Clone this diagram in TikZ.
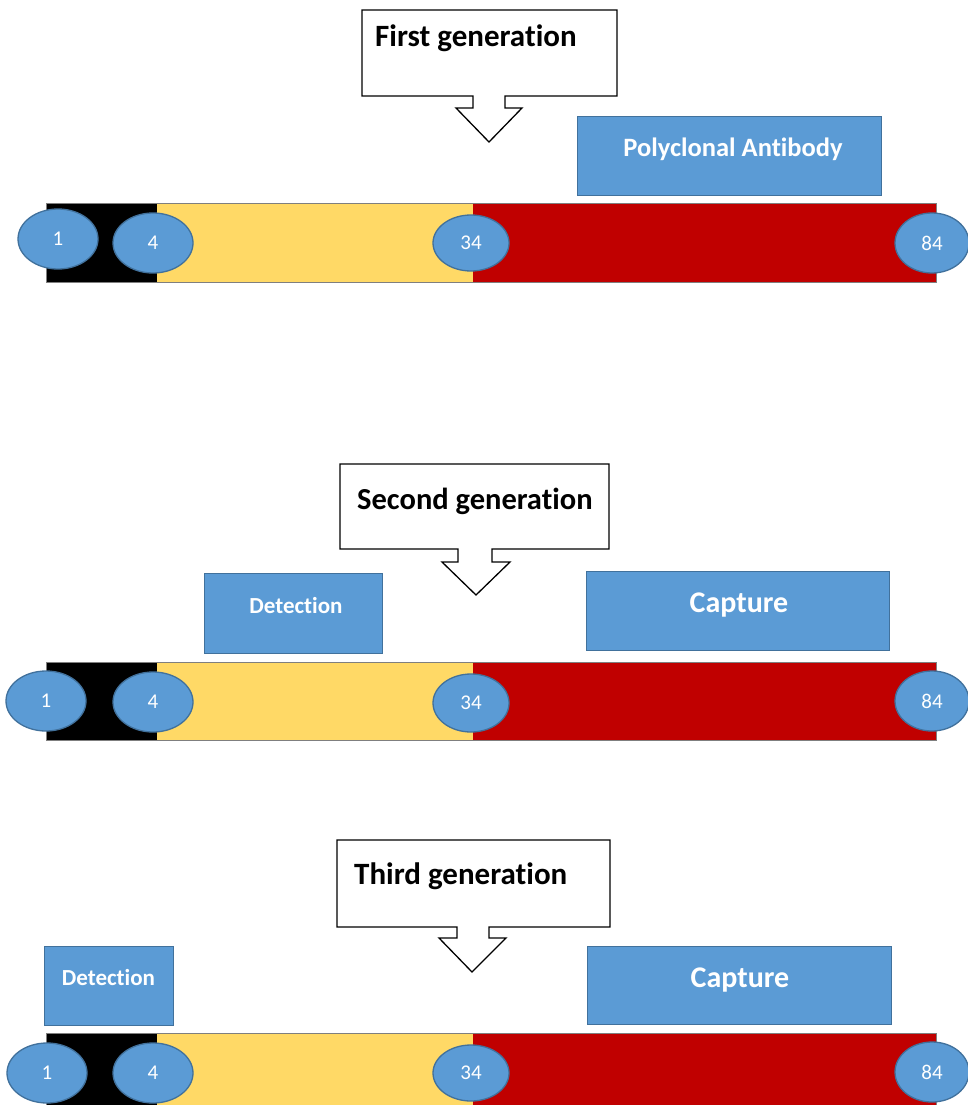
\documentclass[tikz,border=0pt]{standalone}
\usepackage{fontspec}
\setmainfont{Carlito}[Ligatures=NoCommon]
\usetikzlibrary{shapes.geometric}
\definecolor{ablue}{HTML}{5B9BD5}
\definecolor{aborder}{HTML}{41719C}
\definecolor{ayellow}{HTML}{FFD966}
\definecolor{ared}{HTML}{C00000}
\definecolor{barline}{HTML}{7F7F7F}
\begin{document}
\begin{tikzpicture}[x=1pt,y=-1pt,
  site/.style={ellipse, draw=aborder, fill=ablue, line width=1.3pt, inner sep=0pt,
    minimum width=80pt, minimum height=60pt, text=white, font=\fontsize{21}{24}\selectfont},
  bluebox/.style={rectangle, draw=aborder, fill=ablue, line width=1pt, inner sep=0pt},
  boxtext/.style={text=white, anchor=base, inner sep=0pt, font=\bfseries\fontsize{#1}{#1}\selectfont},
  gentext/.style={anchor=base west, inner sep=0pt, font=\bfseries\fontsize{#1}{36}\selectfont},
  callout/.style={draw=black, fill=white, line width=1.3pt, line join=miter},
  barframe/.style={draw=barline, line width=0.8pt}
]
\useasboundingbox (0,0) rectangle (968,1105);
\fill[white] (0,0) rectangle (968,1105);

% ---------- Row 1 ----------
\fill[black]   (46,203) rectangle (157,282);
\fill[ayellow] (157,203) rectangle (473,282);
\fill[ared]    (473,203) rectangle (936,282);
\draw[barframe] (46,203) rectangle (936,282);
\node[site] (a1)  at (58,239)  {1};
\node[site] (a4)  at (153,243) {4};
\node[site, minimum width=76pt, minimum height=56pt] (a34) at (471,243) {34};
\node[site, minimum width=74pt] (a84) at (932,243) {84};
\node[bluebox, minimum width=304pt, minimum height=78pt] (apoly) at (729,156) {};
\node[boxtext=26.5] (apolyt) at (733,157) {Polyclonal Antibody};
\draw[callout] (362,10) -- (617,10) -- (617,96) -- (505,96) -- (505,108) -- (522,108)
  -- (489,142) -- (456,108) -- (473,108) -- (473,96) -- (362,96) -- cycle;
\node[gentext=31] (agen) at (375,47) {First generation};

% ---------- Row 2 ----------
\fill[black]   (46,662) rectangle (157,740);
\fill[ayellow] (157,662) rectangle (473,740);
\fill[ared]    (473,662) rectangle (936,740);
\draw[barframe] (46,662) rectangle (936,740);
\node[site] (b1)  at (46,701)  {1};
\node[site] (b4)  at (153,702) {4};
\node[site, minimum width=76pt, minimum height=58pt] (b34) at (471,703) {34};
\node[site, minimum width=74pt] (b84) at (932,701) {84};
\node[bluebox, minimum width=178pt, minimum height=80pt] (bdet) at (293,613) {};
\node[boxtext=23] (bdett) at (296,613) {Detection};
\node[bluebox, minimum width=303pt, minimum height=79pt] (bcap) at (737.5,610.5) {};
\node[boxtext=30] (bcapt) at (739,612) {Capture};
\draw[callout] (340,464) -- (609,464) -- (609,549) -- (492,549) -- (492,562) -- (510,562)
  -- (476,595) -- (442,562) -- (458,562) -- (458,549) -- (340,549) -- cycle;
\node[gentext=30.5] (bgen) at (357,509) {Second generation};

% ---------- Row 3 ----------
\fill[black]   (46,1033) rectangle (157,1112);
\fill[ayellow] (157,1033) rectangle (473,1112);
\fill[ared]    (473,1033) rectangle (936,1112);
\draw[barframe] (46,1033) rectangle (936,1112);
\node[site] (c1)  at (47,1073)  {1};
\node[site] (c4)  at (153,1073) {4};
\node[site, minimum width=76pt, minimum height=56pt] (c34) at (471,1073) {34};
\node[site, minimum width=74pt] (c84) at (932,1072) {84};
\node[bluebox, minimum width=129pt, minimum height=79pt] (cdet) at (108.5,985.5) {};
\node[boxtext=23] (cdett) at (108.5,985) {Detection};
\node[bluebox, minimum width=304pt, minimum height=78pt] (ccap) at (739,985) {};
\node[boxtext=30] (ccapt) at (740,987) {Capture};
\draw[callout] (337,840) -- (610,840) -- (610,927) -- (489,927) -- (489,938) -- (506,938)
  -- (472,972) -- (439,938) -- (457,938) -- (457,927) -- (337,927) -- cycle;
\node[gentext=31] (cgen) at (354,884) {Third generation};
\end{tikzpicture}
\end{document}
